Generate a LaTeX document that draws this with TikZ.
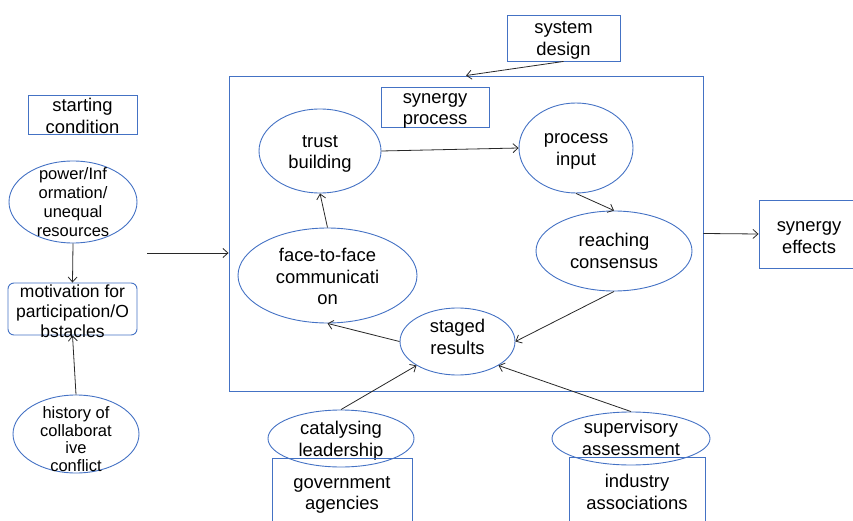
\documentclass[tikz,border=0pt]{standalone}
\usepackage{fontspec}
\setmainfont{Liberation Sans}
\usetikzlibrary{shapes.geometric,arrows.meta}
\definecolor{blueline}{RGB}{68,114,196}
\definecolor{arrowc}{RGB}{40,40,40}
\begin{document}
\begin{tikzpicture}[x=1pt,y=-1pt,
  ell/.style={ellipse,draw=blueline,line width=0.9pt,inner sep=0pt},
  rbox/.style={rectangle,draw=blueline,line width=0.9pt,inner sep=0pt},
  txt/.style={align=center,inner sep=0pt,font=\fontsize{18.4}{21.5}\selectfont},
  mtxt/.style={align=center,inner sep=0pt,font=\fontsize{17.5}{20}\selectfont},
  stxt/.style={align=center,inner sep=0pt,font=\fontsize{16.5}{19}\selectfont},
  htxt/.style={align=center,inner sep=0pt,font=\fontsize{16.5}{17.5}\selectfont},
  arr/.style={draw=arrowc,line width=0.8pt,-{Straight Barb[length=5pt,width=9pt]}}]
\useasboundingbox (0,0) rectangle (853,521);
\clip (0,0) rectangle (853,521);

% left column
\node[rbox,minimum width=109pt,minimum height=39pt] (sc) at (82.5,114.5) {};
\node[txt] (sct) at (82.5,116) {starting\\condition};
\node[ell,minimum width=128pt,minimum height=82pt] (pw) at (73,202) {};
\node[stxt] (pwt) at (73,202.5) {power/Inf\\ormation/\\unequal\\resources};
\node[rbox,rounded corners=6pt,minimum width=129pt,minimum height=52pt] (mo) at (72.5,309) {};
\node[mtxt] (mot) at (72.5,311) {motivation for\\participation/O\\bstacles};
\node[ell,minimum width=126pt,minimum height=78pt] (hi) at (76,434) {};
\node[htxt] (hit) at (76,439) {history of\\collaborat\\ive\\conflict};

% main box
\node[rbox,minimum width=474pt,minimum height=315pt] (mb) at (466,233.5) {};
\node[rbox,minimum width=108pt,minimum height=40pt] (sp) at (435,107) {};
\node[txt] (spt) at (435,111) {synergy\\process};
\node[rbox,minimum width=113pt,minimum height=46pt] (sd) at (563.5,38) {};
\node[txt] (sdt) at (563.5,40.5) {system\\design};
\node[rbox,minimum width=96pt,minimum height=68pt] (se) at (807,234) {};
\node[txt] (set) at (809,237.5) {synergy\\effects};

\node[ell,minimum width=122pt,minimum height=84pt] (tb) at (320,151) {};
\node[txt] (tbt) at (320,154) {trust\\building};
\node[ell,minimum width=114pt,minimum height=90pt] (pi) at (576,148) {};
\node[txt] (pit) at (576,151.5) {process\\input};
\node[ell,minimum width=156pt,minimum height=80pt] (rc) at (614,251) {};
\node[txt] (rct) at (614,251) {reaching\\consensus};
\node[ell,minimum width=179pt,minimum height=95pt] (ff) at (327.5,275.5) {};
\node[txt] (fft) at (327.5,276.5) {face-to-face\\communicati\\on};
\node[ell,minimum width=115pt,minimum height=67pt] (st) at (457.5,341.5) {};
\node[txt] (stt) at (457.5,337) {staged\\results};

% bottom
\node[ell,minimum width=146pt,minimum height=57pt] (cl) at (341,438.5) {};
\node[txt] (clt) at (341,440.5) {catalysing\\leadership};
\node[ell,minimum width=158pt,minimum height=53pt] (sa) at (631,438.5) {};
\node[txt] (sat) at (631,438) {supervisory\\assessment};
\node[rbox,minimum width=140pt,minimum height=67pt] (ga) at (342,491.5) {};
\node[txt] (gat) at (342,495) {government\\agencies};
\node[rbox,minimum width=136pt,minimum height=68pt] (ia) at (637,491) {};
\node[txt] (iat) at (637,492) {industry\\associations};

% connectors
\coordinate (s0) at (147,253);
\draw[arr] (pw.south) -- (mo.north);
\draw[arr] (hi.north) -- (mo.south);
\draw[arr] (s0) -- (s0 -| mb.west);
\draw[arr] (sd.south) -- (mb.north);
\draw[arr] (mb.east) -- (se.west);
\draw[arr] (tb.east) -- (pi.west);
\draw[arr] (pi.south) -- (rc.north);
\draw[arr] (rc.south) -- (st.east);
\draw[arr] (st.west) -- (ff.south);
\draw[arr] (ff.north) -- (tb.south);
\draw[arr] (cl.north) -- (st.south west);
\draw[arr] (sa.north) -- (st.south east);
\end{tikzpicture}
\end{document}
